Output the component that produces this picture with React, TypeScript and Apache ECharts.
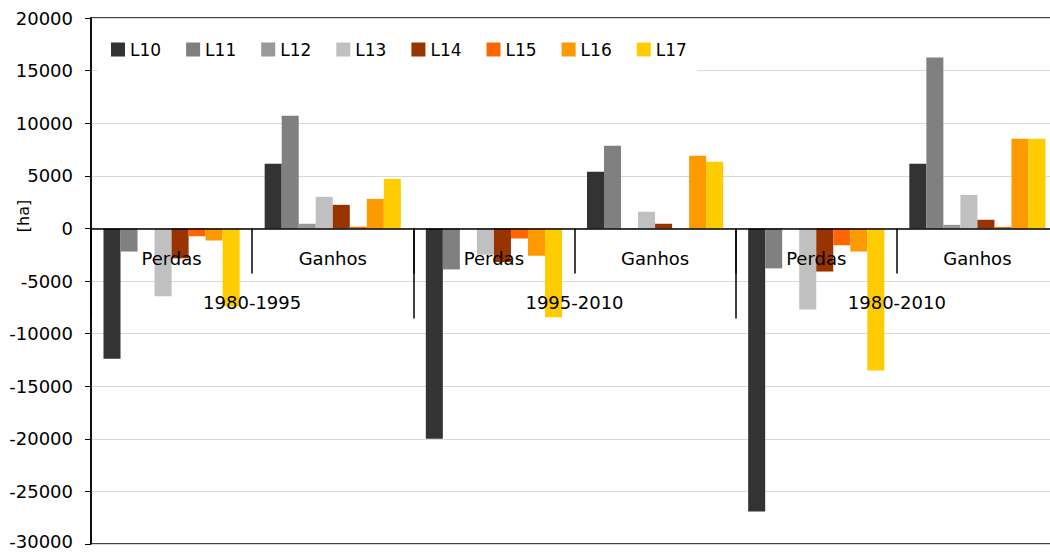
import React, { useEffect, useRef } from "react";
import * as echarts from "echarts";

const categories = ["Perdas", "Ganhos", "Perdas", "Ganhos", "Perdas", "Ganhos"];
const periods = ["1980-1995", "1995-2010", "1980-2010"];
const seriesNames = ["L10", "L11", "L12", "L13", "L14", "L15", "L16", "L17"];
const colors = ["#333333", "#808080", "#999999", "#c0c0c0", "#993300", "#ff6600", "#ff9900", "#ffcc00"];

const L10 = [-12400, 6150, -20000, 5380, -26900, 6140];
const L11 = [-2200, 10700, -3900, 7850, -3800, 16250];
const L12 = [0, 440, 0, 0, 0, 340];
const L13 = [-6450, 3000, -2500, 1580, -7700, 3190];
const L14 = [-2850, 2240, -3200, 440, -4100, 820];
const L15 = [-750, 150, -950, 0, -1600, 130];
const L16 = [-1150, 2800, -2600, 6900, -2200, 8520];
const L17 = [-7400, 4700, -8450, 6330, -13500, 8520];
const seriesValues = [L10, L11, L12, L13, L14, L15, L16, L17];

const yMin = -30000;
const yMax = 20000;
const yStep = 5000;

const FONT = "'DejaVu Sans', sans-serif";

export default function App() {
  const ref = useRef<HTMLDivElement>(null);
  useEffect(() => {
    if (!ref.current) return;
    const chart = echarts.init(ref.current, null, { renderer: "svg" });
    const H = 552;
    const gridTop = 18;
    const gridBottom = 8;
    const plotH = H - gridTop - gridBottom;
    const zeroY = gridTop + (plotH * yMax) / (yMax - yMin);
    const zeroOffset = -(H - gridBottom - zeroY);

    chart.setOption({
      animation: false,
      backgroundColor: "#ffffff",
      textStyle: { fontFamily: FONT },
      grid: {
        left: 91,
        top: gridTop,
        right: -8,
        bottom: gridBottom,
        containLabel: false,
        outerBoundsMode: "none",
        show: true,
        borderColor: "#404040",
        borderWidth: 2,
        backgroundColor: "transparent",
      },
      legend: {
        data: seriesNames,
        left: 97,
        top: 27,
        itemWidth: 14,
        itemHeight: 14,
        itemGap: 25,
        icon: "rect",
        padding: [14, 10, 15, 14],
        backgroundColor: "#ffffff",
        textStyle: { fontSize: 17, color: "#000", fontFamily: FONT },
      },
      xAxis: [
        {
          type: "category",
          data: categories,
          position: "bottom",
          offset: zeroOffset,
          z: 5,
          axisLine: { show: true, onZero: false, lineStyle: { color: "#000", width: 1.5 } },
          axisTick: { show: true, length: 45, lineStyle: { color: "#000", width: 1.5 } },
          axisLabel: { margin: 21, fontSize: 18, color: "#000", fontFamily: FONT },
          splitLine: { show: false },
        },
        {
          type: "category",
          data: periods,
          position: "bottom",
          offset: zeroOffset,
          z: 5,
          axisLine: { show: false, onZero: false },
          axisTick: { show: true, length: 90, lineStyle: { color: "#000", width: 1.5 } },
          axisLabel: { margin: 65, fontSize: 18, color: "#000", fontFamily: FONT },
          splitLine: { show: false },
        },
      ],
      yAxis: {
        type: "value",
        min: yMin,
        max: yMax,
        interval: yStep,
        axisLine: { show: true, lineStyle: { color: "#000", width: 1.5 } },
        axisTick: { show: true, inside: false, length: 6, lineStyle: { color: "#000" } },
        axisLabel: {
          margin: 18,
          fontSize: 18,
          lineHeight: 16,
          color: "#000",
          fontFamily: FONT,
          formatter: (v: number) => (v === yMin ? `{low|${v}}` : String(v)),
          rich: {
            low: { fontSize: 18, lineHeight: 14, padding: [0, 0, 6, 0], color: "#000", fontFamily: FONT },
          },
        },
        splitLine: { show: true, lineStyle: { color: "#d9d9d9", width: 1 } },
      },
      graphic: [
        {
          type: "text",
          x: 23,
          y: 216,
          rotation: Math.PI / 2,
          style: {
            text: "[ha]",
            font: `16px ${FONT}`,
            fill: "#000",
            align: "center",
            verticalAlign: "middle",
          },
        },
      ],
      series: seriesNames.map((name, i) => ({
        name,
        type: "bar",
        xAxisIndex: 0,
        data: seriesValues[i],
        barGap: "0%",
        barCategoryGap: "15.5%",
        itemStyle: { color: colors[i] },
        z: 2,
      })),
    });
    return () => chart.dispose();
  }, []);
  return (
    <div
      ref={ref}
      style={{ position: "absolute", left: 0, top: 0, width: 1050, height: 552 }}
    />
  );
}
